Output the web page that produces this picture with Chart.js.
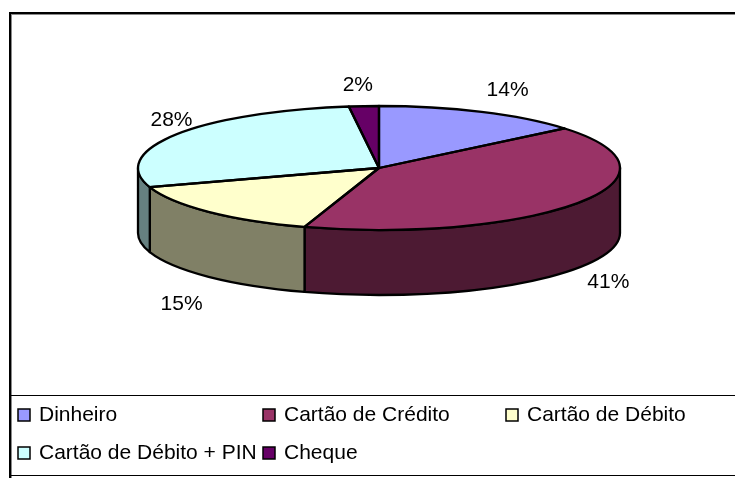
<!DOCTYPE html>
<html>
<head>
<meta charset="utf-8">
<style>html,body{margin:0;padding:0;background:#fff}canvas{display:block}</style>
<script src="https://cdn.jsdelivr.net/npm/chart.js@4/dist/chart.umd.min.js"></script>
</head>
<body>
<canvas id="c" width="735" height="478"></canvas>
<script>
const categories = ["Dinheiro", "Cartão de Crédito", "Cartão de Débito", "Cartão de Débito + PIN", "Cheque"];
const shares = [14, 41, 15, 28, 2];
const topColors = ["#9999FF", "#993366", "#FFFFCC", "#CCFFFF", "#660066"];
const sideColors = ["#4D4D80", "#4D1A33", "#808066", "#668080", "#330033"];

const FONT = '21px "Liberation Sans", Arial, sans-serif';
const CX = 379, CY = 168, RX = 241, RY = 62, DEPTH = 65;
// label offset from the slice's mid-angle point on the rim
const labelOffsets = [[26,-22],[30,14],[-27,27],[-4,-15],[-6,-21]];

const TAU = Math.PI * 2;
function frontRange(a, b) {
  // part of the arc [a,b] on the near half of the ellipse (canvas angle 0..PI)
  let s = ((a % TAU) + TAU) % TAU, e = s + (b - a);
  const ranges = [];
  for (const [lo, hi] of [[0, Math.PI], [TAU, TAU + Math.PI]]) {
    const x = Math.max(s, lo), y = Math.min(e, hi);
    if (y > x) ranges.push([x, y]);
  }
  return ranges;
}

const pie3d = {
  id: 'pie3d',
  beforeDatasetsDraw(chart) {
    const ctx = chart.ctx, arcs = chart.getDatasetMeta(0).data;
    const k = RY / arcs[0].outerRadius;
    const cx = arcs[0].x, cy = arcs[0].y;
    ctx.save();
    ctx.lineWidth = 2.3; ctx.strokeStyle = '#000'; ctx.lineJoin = 'round';
    arcs.forEach((arc, i) => {
      for (const [a, b] of frontRange(arc.startAngle, arc.endAngle)) {
        ctx.beginPath();
        ctx.ellipse(cx, cy + DEPTH, arc.outerRadius, RY, 0, a, b);
        ctx.ellipse(cx, cy, arc.outerRadius, RY, 0, b, a, true);
        ctx.closePath();
        ctx.fillStyle = sideColors[i];
        ctx.fill(); ctx.stroke();
      }
    });
    ctx.restore();
    // the library's own arcs are painted squashed into the top ellipse
    ctx.save();
    ctx.translate(0, cy); ctx.scale(1, k); ctx.translate(0, -cy);
  },
  afterDatasetsDraw(chart) {
    const ctx = chart.ctx, arcs = chart.getDatasetMeta(0).data;
    ctx.restore();
    const cx = arcs[0].x, cy = arcs[0].y;
    ctx.save();
    ctx.lineWidth = 2.3; ctx.strokeStyle = '#000'; ctx.lineJoin = 'round';
    arcs.forEach(arc => {
      ctx.beginPath();
      ctx.moveTo(cx, cy);
      ctx.ellipse(cx, cy, arc.outerRadius, RY, 0, arc.startAngle, arc.endAngle);
      ctx.closePath();
      ctx.stroke();
    });
    // percentage labels
    const total = shares.reduce((p, v) => p + v, 0);
    ctx.fillStyle = '#000'; ctx.font = FONT;
    ctx.textAlign = 'center'; ctx.textBaseline = 'middle';
    arcs.forEach((arc, i) => {
      const m = (arc.startAngle + arc.endAngle) / 2;
      const sy = Math.sin(m) > 0 ? DEPTH : 0;
      const x = cx + Math.cos(m) * arc.outerRadius + labelOffsets[i][0];
      const y = cy + Math.sin(m) * RY + sy + labelOffsets[i][1];
      ctx.fillText(Math.round(shares[i] / total * 100) + '%', x, y);
    });
    ctx.restore();
  },
  afterDraw(chart) {
    const ctx = chart.ctx;
    ctx.save();
    // chart frame
    ctx.fillStyle = '#000';
    ctx.fillRect(9, 12, 726, 2);
    ctx.fillRect(9, 12, 2, 466);
    ctx.fillStyle = '#8a8a8a';
    ctx.fillRect(11, 14, 724, 1);
    ctx.fillRect(11, 14, 1, 464);
    // legend box
    ctx.fillStyle = '#000';
    ctx.fillRect(11, 395, 724, 1);
    ctx.fillRect(11, 475, 724, 1);
    // legend
    const cols = [18, 263, 506], rows = [415, 453];
    ctx.font = FONT; ctx.textAlign = 'left'; ctx.textBaseline = 'middle';
    categories.forEach((name, i) => {
      const x = cols[i % 3], y = rows[Math.floor(i / 3)];
      ctx.fillStyle = topColors[i];
      ctx.fillRect(x, y - 6, 12, 12);
      ctx.strokeStyle = '#000'; ctx.lineWidth = 1.5;
      ctx.strokeRect(x, y - 6, 12, 12);
      ctx.fillStyle = '#000';
      ctx.fillText(name, x + 21, y);
    });
    ctx.restore();
  }
};

new Chart(document.getElementById('c'), {
  type: 'pie',
  data: {
    labels: categories,
    datasets: [{
      data: shares,
      backgroundColor: topColors,
      borderWidth: 0,
      radius: RX,
      clip: false
    }]
  },
  options: {
    responsive: false,
    animation: false,
    events: [],
    layout: { padding: { left: CX - RX, right: 735 - CX - RX, top: 0, bottom: 478 - 2 * CY } },
    plugins: { legend: { display: false }, tooltip: { enabled: false } }
  },
  plugins: [pie3d]
});
</script>
</body>
</html>
